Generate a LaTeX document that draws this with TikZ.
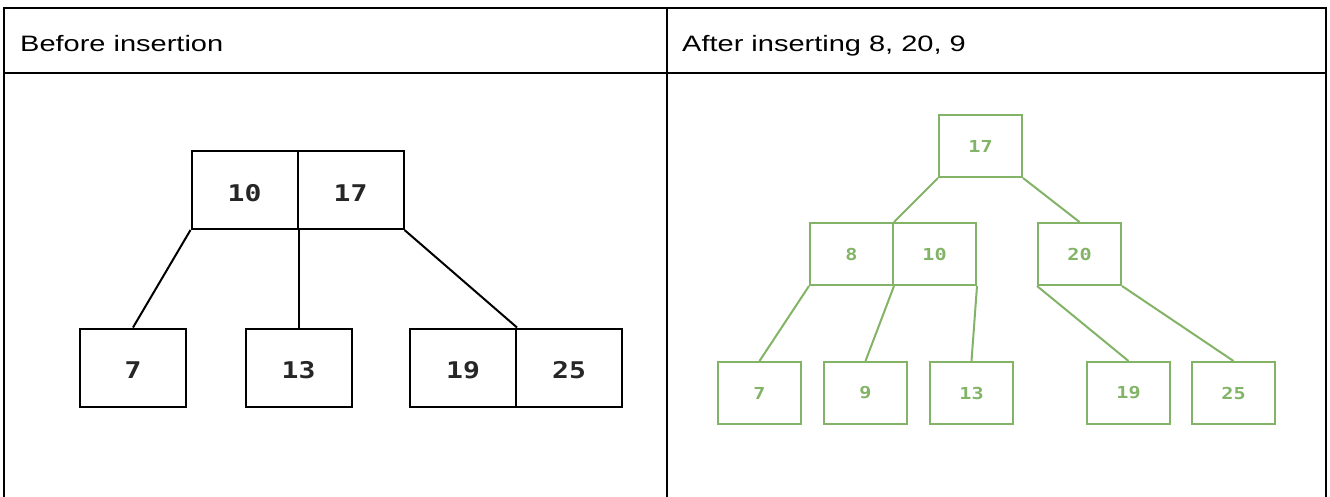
\documentclass[tikz,border=0pt]{standalone}
\usepackage{fontspec}
\setmainfont{Liberation Sans}[FakeStretch=1.3]
\newfontfamily\monofont{DejaVu Sans Mono}[FakeStretch=1.22]
\definecolor{leafgreen}{HTML}{82B366}
\begin{document}
\begin{tikzpicture}[x=1pt,y=-1pt,
  bbox/.style={draw=black,line width=2pt,minimum width=106pt,minimum height=78pt,inner sep=0pt,text height=22.5pt,text depth=0pt,font=\monofont\bfseries\fontsize{23}{23}\selectfont,text=black!85},
  gbox/.style={draw=leafgreen,line width=2pt,minimum width=83pt,minimum height=62pt,inner sep=0pt,font=\monofont\bfseries\fontsize{16.5}{17}\selectfont,text=leafgreen},
  bline/.style={draw=black,line width=2pt},
  gline/.style={draw=leafgreen,line width=2pt},
  tline/.style={draw=black,line width=2pt},
  head/.style={anchor=base west,font=\fontsize{22.3}{26}\selectfont,inner sep=0pt}]
\useasboundingbox (0,0) rectangle (1330,496);
% table
\draw[tline] (4,520) -- (4,8) -- (1326,8) -- (1326,520);
\draw[tline] (4,73) -- (1326,73);
\draw[tline] (667,8) -- (667,520);
\node[head] (h1) at (20,51) {Before insertion};
\node[head] (h2) at (682,51) {After inserting 8, 20, 9};
% left tree
\node[bbox] (a10) at (244.5,190) {10};
\node[bbox] (a17) at (350.5,190) {17};
\node[bbox] (a7) at (133,367.5) {7};
\node[bbox] (a13) at (298.5,367.5) {13};
\node[bbox] (a19) at (463,367.5) {19};
\node[bbox] (a25) at (569,367.5) {25};
\draw[bline] (a10.south west) -- (a7.north);
\draw[bline] (a10.south east) -- (a13.north);
\draw[bline] (a17.south east) -- (a19.north east);
% right tree
\node[gbox] (r17) at (980.5,146) {17};
\node[gbox] (g8) at (851.5,254) {8};
\node[gbox] (g10) at (934.5,254) {10};
\node[gbox] (g20) at (1079.5,254) {20};
\node[gbox] (g7) at (759.5,393) {7};
\node[gbox] (g9) at (865.5,393) {9};
\node[gbox] (g13) at (971.5,393) {13};
\node[gbox] (g19) at (1128.5,393) {19};
\node[gbox] (g25) at (1233.5,393) {25};
\draw[gline] (r17.south west) -- (g8.north east);
\draw[gline] (r17.south east) -- (g20.north);
\draw[gline] (g8.south west) -- (g7.north);
\draw[gline] (g8.south east) -- (g9.north);
\draw[gline] (g10.south east) -- (g13.north);
\draw[gline] (g20.south west) -- (g19.north);
\draw[gline] (g20.south east) -- (g25.north);
\end{tikzpicture}
\end{document}
